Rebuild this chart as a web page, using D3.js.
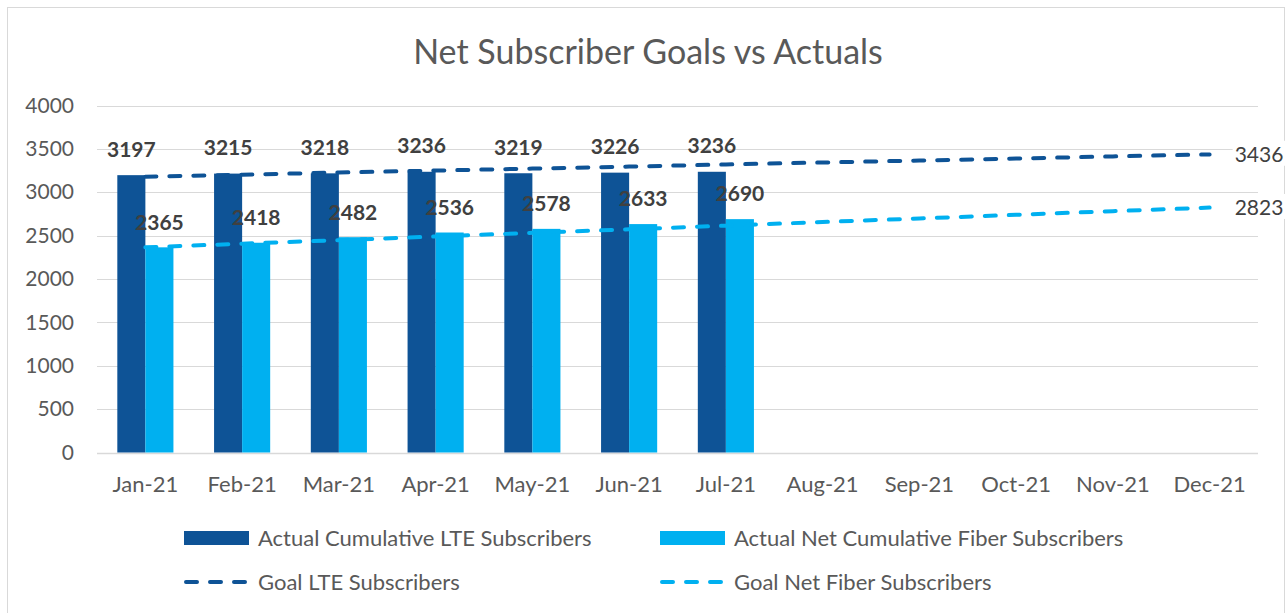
<!DOCTYPE html>
<html>
<head>
<meta charset="utf-8">
<script src="https://cdn.jsdelivr.net/npm/d3@7"></script>
<style>
  html, body { margin: 0; padding: 0; background: #fff; }
  svg { display: block; }
  text { font-family: Lato, "Open Sans", sans-serif; }
</style>
</head>
<body>
<svg id="chart" width="1288" height="613"></svg>
<script>
const months = ["Jan-21","Feb-21","Mar-21","Apr-21","May-21","Jun-21","Jul-21","Aug-21","Sep-21","Oct-21","Nov-21","Dec-21"];
const actualLTE = [3197, 3215, 3218, 3236, 3219, 3226, 3236];
const actualFiber = [2365, 2418, 2482, 2536, 2578, 2633, 2690];
const goalLTE = [3180, 3203, 3227, 3250, 3273, 3296, 3320, 3343, 3366, 3389, 3413, 3436];
const goalFiber = [2365, 2407, 2448, 2490, 2532, 2573, 2615, 2657, 2698, 2740, 2782, 2823];
const yTicks = [0, 500, 1000, 1500, 2000, 2500, 3000, 3500, 4000];
const seriesNames = ["Actual Cumulative LTE Subscribers", "Actual Net Cumulative Fiber Subscribers", "Goal LTE Subscribers", "Goal Net Fiber Subscribers"];
const title = "Net Subscriber Goals vs Actuals";

const C_LTE = "#0E5396", C_FIB = "#00B0F0", TXT = "#595959";
const svg = d3.select("#chart");

// outer border
svg.append("rect").attr("x", 7.5).attr("y", 7.5).attr("width", 1277).attr("height", 620)
  .attr("fill", "#fff").attr("stroke", "#d9d9d9").attr("stroke-width", 1);

const x0 = d3.scaleBand().domain(months).range([97, 1258]).paddingInner(0.42).paddingOuter(0.21);
const x1 = d3.scaleBand().domain(["lte","fiber"]).range([0, x0.bandwidth()]);
const y = d3.scaleLinear().domain([0, 4000]).range([452.5, 105.5]);

// title
svg.append("text").attr("x", 648).attr("y", 64).attr("text-anchor", "middle")
  .attr("font-size", 34).attr("fill", TXT).text(title);

// gridlines
svg.append("g").selectAll("line").data(yTicks).join("line")
  .attr("x1", 97).attr("x2", 1258)
  .attr("y1", d => Math.round(y(d)) + 0.5).attr("y2", d => Math.round(y(d)) + 0.5)
  .attr("stroke", "#d9d9d9").attr("stroke-width", d => d === 0 ? 1.5 : 1);

// y axis labels
const yAxis = d3.axisLeft(y).tickValues(yTicks).tickSize(0).tickPadding(0).tickFormat(d3.format("d"));
const yg = svg.append("g").attr("transform", "translate(74,0)").call(yAxis);
yg.select(".domain").remove();
yg.selectAll("text").attr("font-size", 21).attr("fill", TXT).attr("font-family", "Lato, sans-serif");

// x axis labels
const xAxis = d3.axisBottom(x0).tickSize(0).tickPadding(0);
const xg = svg.append("g").attr("transform", "translate(0,476)").call(xAxis);
xg.select(".domain").remove();
xg.selectAll("text").attr("font-size", 22).attr("fill", TXT).attr("font-family", "Lato, sans-serif");

// bars
const lteData = actualLTE.map((v, i) => ({m: months[i], v}));
const fibData = actualFiber.map((v, i) => ({m: months[i], v}));
svg.append("g").selectAll("rect").data(lteData).join("rect")
  .attr("x", d => x0(d.m) + x1("lte")).attr("width", x1.bandwidth())
  .attr("y", d => y(d.v)).attr("height", d => y(0) - y(d.v)).attr("fill", C_LTE);
svg.append("g").selectAll("rect").data(fibData).join("rect")
  .attr("x", d => x0(d.m) + x1("fiber")).attr("width", x1.bandwidth())
  .attr("y", d => y(d.v)).attr("height", d => y(0) - y(d.v)).attr("fill", C_FIB);

// goal lines
const line = d3.line().x((d, i) => x0(months[i]) + x0.bandwidth() / 2).y(d => y(d));
svg.append("path").datum(goalFiber).attr("d", line).attr("fill", "none")
  .attr("stroke", C_FIB).attr("stroke-width", 4).attr("stroke-linecap", "round")
  .attr("stroke-dasharray", "11,13");
svg.append("path").datum(goalLTE).attr("d", line).attr("fill", "none")
  .attr("stroke", C_LTE).attr("stroke-width", 4).attr("stroke-linecap", "round")
  .attr("stroke-dasharray", "11,13");

// data labels
svg.append("g").selectAll("text").data(lteData).join("text")
  .attr("x", d => x0(d.m) + x1("lte") + x1.bandwidth() / 2)
  .attr("y", d => y(d.v) - 26).attr("dy", "0.35em").attr("text-anchor", "middle")
  .attr("font-size", 21).attr("font-weight", "bold").attr("fill", "#404040").text(d => d.v);
svg.append("g").selectAll("text").data(fibData).join("text")
  .attr("x", d => x0(d.m) + x1("fiber") + x1.bandwidth() / 2)
  .attr("y", d => y(d.v) - 25).attr("dy", "0.35em").attr("text-anchor", "middle")
  .attr("font-size", 21).attr("font-weight", "bold").attr("fill", "#404040").text(d => d.v);

// end labels for goals
const lastX = x0(months[11]) + x0.bandwidth() / 2;
[goalLTE[11], goalFiber[11]].forEach(v => {
  const g = svg.append("g");
  const t = g.append("text").attr("x", lastX + 25).attr("y", y(v)).attr("dy", "0.35em")
    .attr("font-size", 21).attr("fill", "#404040").text(v);
  const bb = t.node().getBBox();
  g.insert("rect", "text").attr("x", bb.x - 2).attr("y", bb.y).attr("width", bb.width + 4).attr("height", bb.height).attr("fill", "#fff");
});

// legend
const leg = [
  {name: seriesNames[0], type: "bar", color: C_LTE, x: 184, y: 538},
  {name: seriesNames[1], type: "bar", color: C_FIB, x: 660, y: 538},
  {name: seriesNames[2], type: "line", color: C_LTE, x: 184, y: 582},
  {name: seriesNames[3], type: "line", color: C_FIB, x: 660, y: 582}
];
const lg = svg.append("g").selectAll("g").data(leg).join("g");
lg.filter(d => d.type === "bar").append("rect")
  .attr("x", d => d.x).attr("y", d => d.y - 7).attr("width", 65).attr("height", 14).attr("fill", d => d.color);
lg.filter(d => d.type === "line").append("line")
  .attr("x1", d => d.x + 2).attr("x2", d => d.x + 63).attr("y1", d => d.y).attr("y2", d => d.y)
  .attr("stroke", d => d.color).attr("stroke-width", 4).attr("stroke-linecap", "round")
  .attr("stroke-dasharray", "11,13");
lg.append("text").attr("x", d => d.x + 74).attr("y", d => d.y).attr("dy", "0.35em")
  .attr("font-size", 22).attr("fill", TXT).text(d => d.name);
</script>
</body>
</html>
